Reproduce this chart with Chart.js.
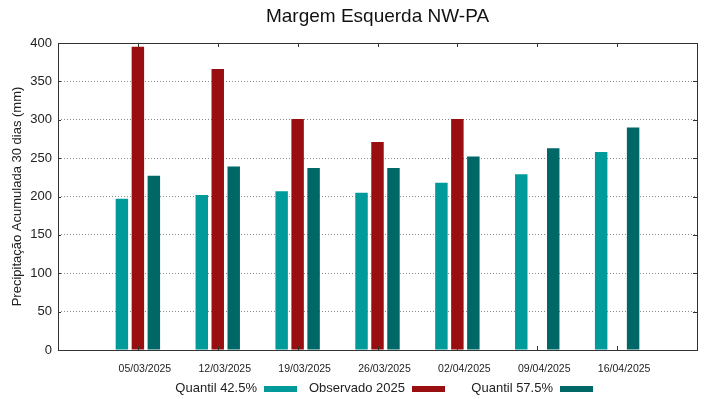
<!DOCTYPE html>
<html>
<head>
<meta charset="utf-8">
<script src="https://cdn.jsdelivr.net/npm/chart.js@4/dist/chart.umd.min.js"></script>
<style>
  body { margin: 0; background: #fff; }
</style>
</head>
<body>
<canvas id="chart" width="719" height="399"></canvas>
<script>
// semanas (rótulos do eixo x)
const categories = ['05/03/2025', '12/03/2025', '19/03/2025', '26/03/2025', '02/04/2025', '09/04/2025', '16/04/2025'];
const quantil425 = [197, 202, 207, 205, 218, 229, 258];
const observado2025 = [395, 366, 301, 271, 301, null, null];
const quantil575 = [227, 239, 237, 237, 252, 263, 290];
const yTicks = [0, 50, 100, 150, 200, 250, 300, 350, 400];

const FONT = "'Liberation Sans', Arial, sans-serif";

// uma categoria vazia em cada ponta, como no gráfico original
const pad = arr => [null, ...arr, null];
const labels = ['', ...categories, ''];

// moldura e marcas de escala para dentro
const framePlugin = {
    id: 'frame',
    afterDatasetsDraw(chart) {
        const { ctx, chartArea: a, scales } = chart;
        ctx.save();
        ctx.strokeStyle = '#333';
        ctx.lineWidth = 1;
        ctx.beginPath();
        categories.forEach((c, i) => {
            const x = Math.round(scales.x.getPixelForValue(i + 1)) + 0.5;
            ctx.moveTo(x, a.top);
            ctx.lineTo(x, a.top + 4);
            ctx.moveTo(x, a.bottom);
            ctx.lineTo(x, a.bottom - 4);
        });
        yTicks.slice(1, -1).forEach(v => {
            const y = Math.round(scales.y.getPixelForValue(v)) + 0.5;
            ctx.moveTo(a.right, y);
            ctx.lineTo(a.right - 4, y);
            ctx.moveTo(a.left, y);
            ctx.lineTo(a.left + 3, y);
        });
        ctx.stroke();
        ctx.strokeRect(Math.round(a.left) + 0.5, Math.round(a.top) + 0.5,
            Math.round(a.right - a.left), Math.round(a.bottom - a.top));
        ctx.restore();
    }
};

// legenda: texto à esquerda, amostra de cor à direita
const legendPlugin = {
    id: 'legendRight',
    afterDraw(chart) {
        const ctx = chart.ctx;
        const swatchX = [264, 412, 560];
        ctx.save();
        ctx.font = '13px ' + FONT;
        ctx.textAlign = 'right';
        ctx.textBaseline = 'middle';
        chart.data.datasets.forEach((ds, i) => {
            ctx.fillStyle = '#222';
            ctx.fillText(ds.label, swatchX[i] - 7, 388);
            ctx.fillStyle = ds.backgroundColor;
            ctx.fillRect(swatchX[i], 386, 33, 6);
        });
        ctx.restore();
    }
};

const ctx = document.getElementById('chart').getContext('2d');
new Chart(ctx, {
    type: 'bar',
    data: {
        labels: labels,
        datasets: [
            { label: 'Quantil 42.5%', data: pad(quantil425), backgroundColor: '#009a9a' },
            { label: 'Observado 2025', data: pad(observado2025), backgroundColor: '#990f0f' },
            { label: 'Quantil 57.5%', data: pad(quantil575), backgroundColor: '#006767' }
        ]
    },
    options: {
        responsive: false,
        animation: false,
        datasets: {
            bar: { categoryPercentage: 0.6, barPercentage: 0.78, borderWidth: 0 }
        },
        layout: { padding: { left: 0, right: 22, top: 0, bottom: 21 } },
        scales: {
            x: {
                offset: false,
                grid: { display: false },
                border: { display: false },
                ticks: {
                    autoSkip: false,
                    maxRotation: 0,
                    padding: 5,
                    labelOffset: 7,
                    color: '#222',
                    font: { family: FONT, size: 10.5 }
                },
                afterFit: s => { s.height = 28; }
            },
            y: {
                min: 0,
                max: 400,
                grid: { color: '#8a8a8a', drawTicks: false },
                border: { display: false, dash: [1, 2] },
                afterBuildTicks: s => { s.ticks = yTicks.map(v => ({ value: v })); },
                ticks: {
                    padding: 6,
                    color: '#222',
                    font: { family: FONT, size: 13 }
                },
                title: {
                    display: true,
                    text: 'Precipitação Acumulada 30 dias (mm)',
                    color: '#222',
                    font: { family: FONT, size: 13 },
                    padding: { top: 10, bottom: 0 }
                },
                afterFit: s => { s.width = 58; }
            }
        },
        plugins: {
            legend: { display: false },
            tooltip: { enabled: false },
            title: {
                display: true,
                fullSize: false,
                text: 'Margem Esquerda NW-PA',
                color: '#111',
                font: { family: FONT, size: 19, weight: 'normal' },
                padding: { top: 5, bottom: 15.2 }
            }
        }
    },
    plugins: [framePlugin, legendPlugin]
});
</script>
</body>
</html>
